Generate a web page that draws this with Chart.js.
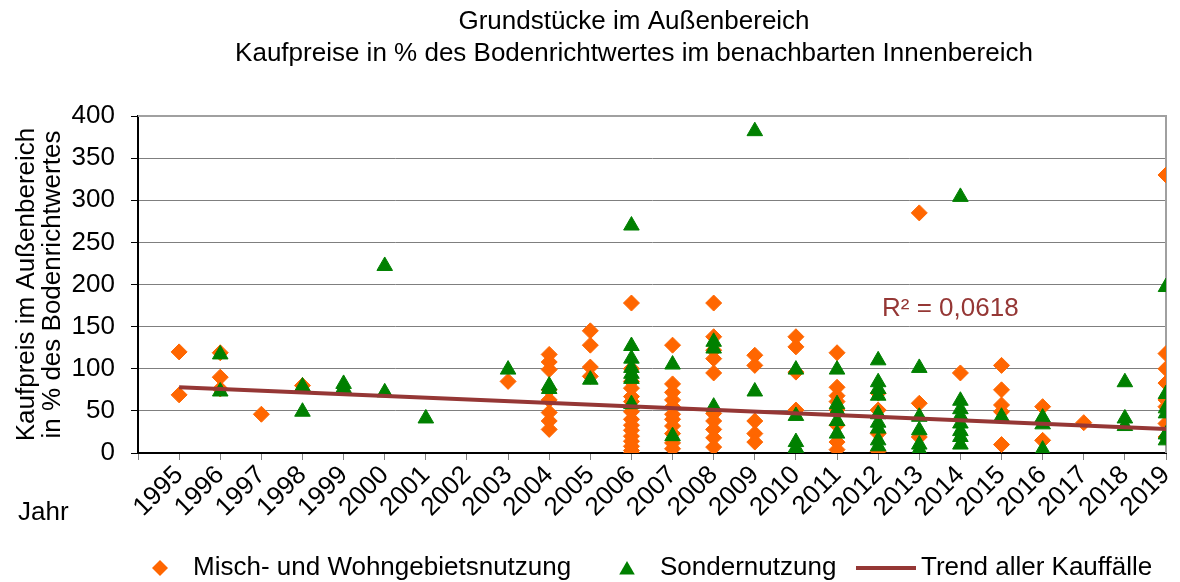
<!DOCTYPE html>
<html lang="de">
<head>
<meta charset="utf-8">
<title>Grundstücke im Außenbereich</title>
<script src="https://cdn.jsdelivr.net/npm/chart.js@4.4.1/dist/chart.umd.min.js"></script>
<style>
    html, body { margin: 0; padding: 0; background: #fff; }
    #wrap { width: 1180px; height: 582px; position: relative; }
</style>
</head>
<body>
<div id="wrap"><canvas id="chartAussenbereich"></canvas></div>
<script>
// Kaufpreise in % des Bodenrichtwertes, je Kauffall ein Punkt
var mischJahre = [
    1995, 1995,
    1996, 1996, 1996,
    1997,
    1998,
    2003,
    2004, 2004, 2004, 2004, 2004, 2004, 2004, 2004,
    2005, 2005, 2005, 2005,
    2006, 2006, 2006, 2006, 2006, 2006, 2006, 2006, 2006, 2006, 2006, 2006, 2006, 2006, 2006,
    2007, 2007, 2007, 2007, 2007, 2007, 2007, 2007, 2007, 2007, 2007,
    2008, 2008, 2008, 2008, 2008, 2008, 2008, 2008, 2008, 2008,
    2009, 2009, 2009, 2009, 2009,
    2010, 2010, 2010, 2010,
    2011, 2011, 2011, 2011, 2011, 2011, 2011, 2011,
    2012, 2012, 2012, 2012,
    2013, 2013, 2013,
    2014,
    2015, 2015, 2015, 2015, 2015,
    2016, 2016,
    2017,
    2019, 2019, 2019, 2019, 2019, 2019, 2019, 2019
];
var mischWerte = [
    120, 69,
    119, 90, 76,
    46,
    80,
    85,
    117, 108, 99, 75, 63, 48, 38, 28,
    145, 128, 102, 91,
    178, 100, 85, 77, 67, 61, 49, 40, 33, 27, 20, 14, 8, 3, 0,
    128, 82, 72, 63, 55, 46, 40, 32, 23, 12, 5,
    178, 138, 122, 112, 95, 47, 38, 28, 18, 7,
    116, 104, 38, 23, 13,
    138, 126, 96, 51,
    119, 78, 68, 61, 51, 33, 13, 4,
    71, 51, 23, 2,
    285, 59, 19,
    95,
    104, 75, 57, 49, 10,
    55, 15,
    36,
    330, 118, 100, 83, 63, 55, 35, 19
];

var sonderJahre = [
    1996, 1996,
    1998, 1998,
    1999, 1999,
    2000, 2000,
    2001,
    2003,
    2004, 2004,
    2005,
    2006, 2006, 2006, 2006, 2006, 2006, 2006,
    2007, 2007,
    2008, 2008, 2008,
    2009, 2009,
    2010, 2010, 2010, 2010, 2010,
    2011, 2011, 2011, 2011, 2011,
    2012, 2012, 2012, 2012, 2012, 2012, 2012, 2012, 2012,
    2013, 2013, 2013, 2013, 2013,
    2014, 2014, 2014, 2014, 2014, 2014, 2014, 2014,
    2015,
    2016, 2016, 2016,
    2018, 2018, 2018,
    2019, 2019, 2019, 2019, 2019, 2019
];
var sonderWerte = [
    117, 73,
    79, 49,
    82, 77,
    222, 72,
    41,
    99,
    80, 76,
    87,
    270, 127, 112, 101, 94, 88, 58,
    105, 20,
    132, 124, 55,
    382, 73,
    99, 44, 13, 6, 1,
    99, 58, 51, 38, 23,
    110, 84, 76, 68, 46, 36, 29, 15, 8,
    101, 43, 27, 10, 4,
    304, 62, 52, 44, 35, 26, 19, 10,
    43,
    42, 34, 4,
    84, 41, 32,
    197, 70, 53, 47, 22, 15
];

// lineare Trendlinie über alle Kauffälle
var trendJahre = [1995, 2019];
var trendWerte = [78, 28.5];
var bestimmtheit = 'R² = 0,0618';

var titelZeilen = ['Grundstücke im Außenbereich', 'Kaufpreise in % des Bodenrichtwertes im benachbarten Innenbereich'];
var yTitel = ['Kaufpreis im Außenbereich', 'in % des Bodenrichtwertes'];
var xTitel = 'Jahr';
var legende = ['Misch- und Wohngebietsnutzung', 'Sondernutzung', 'Trend aller Kauffälle'];

var ORANGE = '#ff6600';
var GRUEN = '#008000';
var TREND = '#953735';
var FONT = "'Liberation Sans', Arial, sans-serif";

Chart.defaults.font.family = FONT;
Chart.defaults.font.size = 26;
Chart.defaults.color = '#000';

function punkte(jahre, werte) {
    return jahre.map(function (j, i) { return { x: j, y: werte[i] }; });
}

// Rahmen oben/rechts hinter den Punkten
var rahmen = {
    id: 'rahmen',
    beforeDatasetsDraw: function (chart) {
        var ctx = chart.ctx, a = chart.chartArea;
        ctx.save();
        ctx.strokeStyle = '#a0a0a0';
        ctx.lineWidth = 2;
        ctx.beginPath();
        ctx.moveTo(a.left, a.top);
        ctx.lineTo(a.right, a.top);
        ctx.lineTo(a.right, a.bottom);
        ctx.stroke();
        ctx.restore();
    }
};

// Titel, Achsenbeschriftung "Jahr", R² und Legende
var texte = {
    id: 'texte',
    afterDraw: function (chart) {
        var ctx = chart.ctx, a = chart.chartArea;
        ctx.save();
        ctx.font = '26px ' + FONT;
        ctx.fillStyle = '#000';
        ctx.textBaseline = 'middle';
        ctx.textAlign = 'center';
        ctx.fillText(titelZeilen[0], 634, 22);
        ctx.fillText(titelZeilen[1], 634, 54);

        ctx.textAlign = 'left';
        ctx.fillText(xTitel, 18, 513);

        ctx.fillStyle = TREND;
        ctx.fillText(bestimmtheit, a.left + 744, 309);

        // Legende
        var ly = 568;
        ctx.fillStyle = ORANGE;
        Chart.helpers.drawPoint(ctx, { pointStyle: 'rectRot', radius: 8, rotation: 0, borderWidth: 0 }, 160, ly);
        ctx.fillStyle = GRUEN;
        Chart.helpers.drawPoint(ctx, { pointStyle: 'triangle', radius: 9, rotation: 0, borderWidth: 0 }, 627, ly + 2);
        ctx.strokeStyle = TREND;
        ctx.lineWidth = 4;
        ctx.beginPath();
        ctx.moveTo(856, ly);
        ctx.lineTo(916, ly);
        ctx.stroke();

        ctx.fillStyle = '#000';
        ctx.fillText(legende[0], 193, ly);
        ctx.fillText(legende[1], 660, ly);
        ctx.fillText(legende[2], 921, ly);
        ctx.restore();
    }
};

new Chart(document.getElementById('chartAussenbereich'), {
    type: 'scatter',
    data: {
        datasets: [
            {
                label: legende[0],
                data: punkte(mischJahre, mischWerte),
                pointStyle: 'rectRot',
                pointRadius: 8,
                pointBackgroundColor: ORANGE,
                pointBorderColor: ORANGE,
                pointBorderWidth: 1,
                order: 3
            },
            {
                label: legende[1],
                data: punkte(sonderJahre, sonderWerte),
                pointStyle: 'triangle',
                pointRadius: 9,
                pointBackgroundColor: GRUEN,
                pointBorderColor: GRUEN,
                pointBorderWidth: 1,
                order: 2
            },
            {
                label: legende[2],
                data: punkte(trendJahre, trendWerte),
                showLine: true,
                pointRadius: 0,
                borderColor: TREND,
                borderWidth: 4,
                order: 1
            }
        ]
    },
    options: {
        responsive: true,
        maintainAspectRatio: false,
        animation: false,
        events: [],
        layout: { padding: { top: 116, right: 14, bottom: 0, left: 0 } },
        plugins: {
            legend: { display: false },
            title: { display: false },
            tooltip: { enabled: false }
        },
        scales: {
            x: {
                type: 'linear',
                min: 1994,
                max: 2019,
                afterFit: function (s) {
                    s.height = 129;
                    s.paddingLeft = 0;
                    s.paddingRight = 0;
                },
                border: { color: '#000', width: 2 },
                grid: { drawOnChartArea: false, drawTicks: true, tickLength: 7, tickColor: '#808080' },
                ticks: {
                    stepSize: 1,
                    autoSkip: false,
                    maxRotation: 45,
                    minRotation: 45,
                    padding: 0,
                    color: '#000',
                    callback: function (v) { return v === 1994 ? '' : String(v); }
                }
            },
            y: {
                min: 0,
                max: 400,
                afterFit: function (s) { s.width = 138; },
                border: { color: '#000', width: 2 },
                grid: { color: '#7f7f7f', lineWidth: 1, tickLength: 7, tickColor: '#000' },
                ticks: { stepSize: 50, padding: 16, color: '#000' },
                title: {
                    display: true,
                    text: yTitel,
                    color: '#000',
                    font: { size: 26, lineHeight: 1.0 },
                    padding: { top: 14, bottom: 0 }
                }
            }
        }
    },
    plugins: [rahmen, texte]
});
</script>
</body>
</html>
